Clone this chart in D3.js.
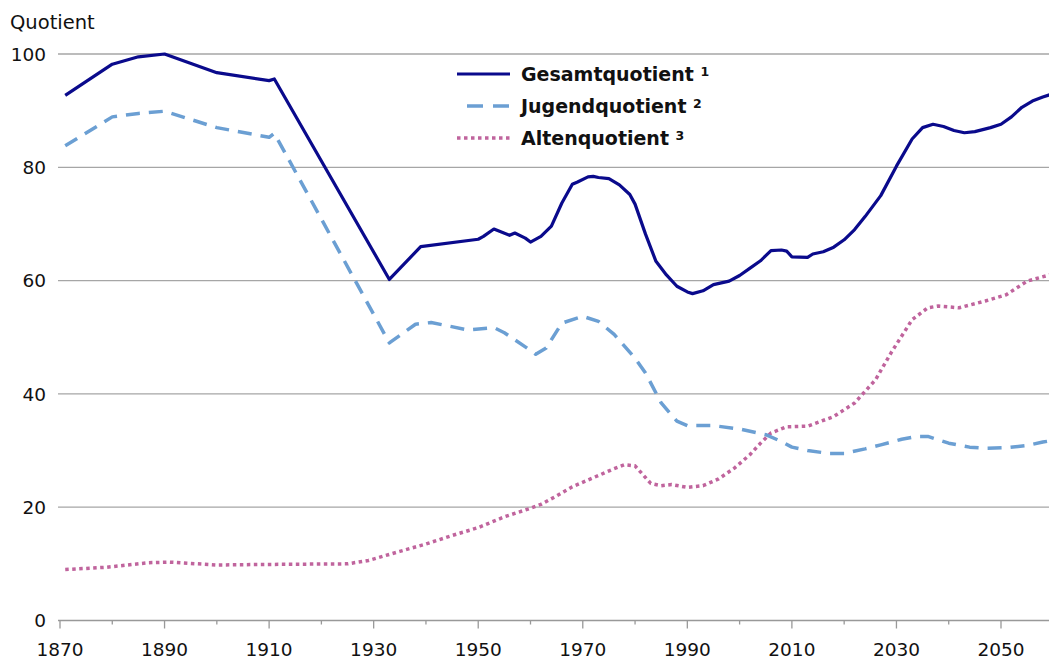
<!DOCTYPE html>
<html>
<head>
<meta charset="utf-8">
<script src="https://cdn.jsdelivr.net/npm/d3@7"></script>
<style>
    body { margin: 0; background: #fff; }
    svg { display: block; font-family: "DejaVu Sans", Verdana, sans-serif; }
</style>
</head>
<body>
<div id="chart"></div>
<script>

/*
Data
 */

var gesamtYears  = [1871, 1880, 1885, 1890, 1900, 1910, 1911, 1933, 1939, 1950, 1951, 1953, 1956, 1957, 1959, 1960, 1962, 1964, 1966, 1968, 1969, 1971, 1972, 1973, 1975, 1977, 1979, 1980, 1982, 1984, 1986, 1988, 1990, 1991, 1993, 1995, 1998, 2000, 2002, 2004, 2006, 2008, 2009, 2010, 2013, 2014, 2016, 2018, 2020, 2022, 2024, 2027, 2030, 2033, 2035, 2037, 2039, 2041, 2043, 2045, 2048, 2050, 2052, 2054, 2056, 2058, 2060];
var gesamtValues = [92.7, 98.2, 99.5, 100, 96.7, 95.3, 95.6, 60.2, 66.0, 67.3, 67.8, 69.1, 68.0, 68.4, 67.5, 66.8, 67.8, 69.6, 73.7, 77.0, 77.4, 78.3, 78.4, 78.2, 78.0, 76.9, 75.2, 73.5, 68.2, 63.4, 61.0, 59.0, 58.0, 57.7, 58.2, 59.3, 59.9, 60.9, 62.2, 63.5, 65.3, 65.4, 65.2, 64.2, 64.1, 64.7, 65.1, 65.9, 67.2, 69.0, 71.3, 75.0, 80.2, 85.0, 87.0, 87.6, 87.2, 86.5, 86.1, 86.3, 87.0, 87.6, 88.9, 90.6, 91.7, 92.4, 93.0];

var jugendYears  = [1871, 1880, 1885, 1890, 1900, 1910, 1911, 1933, 1938, 1941, 1948, 1953, 1955, 1959, 1961, 1963, 1966, 1970, 1973, 1976, 1980, 1982, 1985, 1988, 1990, 1995, 2000, 2005, 2008, 2010, 2013, 2017, 2020, 2024, 2027, 2031, 2034, 2036, 2040, 2044, 2047, 2051, 2055, 2058, 2060];
var jugendValues = [83.8, 88.9, 89.5, 89.9, 87.0, 85.3, 86.0, 49.0, 52.3, 52.6, 51.3, 51.7, 50.8, 48.3, 47.0, 48.1, 52.5, 53.7, 52.8, 50.5, 46.3, 43.7, 38.4, 35.2, 34.4, 34.4, 33.8, 32.8, 31.6, 30.6, 30.0, 29.5, 29.5, 30.3, 31.0, 32.0, 32.5, 32.5, 31.3, 30.6, 30.4, 30.5, 30.9, 31.5, 31.8];

var altenYears  = [1871, 1879, 1887, 1891, 1900, 1910, 1925, 1929, 1935, 1940, 1945, 1950, 1955, 1960, 1962, 1965, 1968, 1972, 1976, 1978, 1980, 1983, 1985, 1987, 1990, 1993, 1996, 1999, 2002, 2004, 2006, 2009, 2013, 2018, 2022, 2026, 2029, 2033, 2036, 2038, 2042, 2047, 2051, 2055, 2060];
var altenValues = [9.0, 9.4, 10.2, 10.3, 9.8, 9.9, 10.0, 10.6, 12.2, 13.5, 15.0, 16.4, 18.3, 19.8, 20.5, 22.0, 23.6, 25.2, 26.8, 27.5, 27.3, 24.2, 23.8, 24.0, 23.5, 23.8, 25.0, 26.9, 29.3, 31.3, 33.1, 34.2, 34.3, 36.0, 38.4, 42.5, 47.3, 53.1, 55.2, 55.5, 55.2, 56.4, 57.5, 59.9, 61.2];

var yTicks = [0, 20, 40, 60, 80, 100];
var xMajorTicks = [1870, 1890, 1910, 1930, 1950, 1970, 1990, 2010, 2030, 2050];
var xMinorTicks = [1880, 1900, 1920, 1940, 1960, 1980, 2000, 2020, 2040, 2060];

var seriesNames = ["Gesamtquotient", "Jugendquotient", "Altenquotient"];
var seriesNotes = ["1", "2", "3"];

/*
Chart setup
 */

var width = 1049, height = 660;

var svg = d3.select("#chart")
    .append("svg")
    .attr("width", width)
    .attr("height", height);

var x = d3.scaleLinear().domain([1870, 2050]).range([60, 1001]);
var y = d3.scaleLinear().domain([0, 100]).range([620.5, 54]);

// gridlines
svg.append("g")
    .selectAll("line")
    .data(yTicks.filter(function(d) { return d > 0; }))
    .enter()
    .append("line")
    .attr("x1", 58)
    .attr("x2", width)
    .attr("y1", function(d) { return y(d); })
    .attr("y2", function(d) { return y(d); })
    .style("stroke", "#a6a6a6")
    .style("stroke-width", 1.3);

// y labels
svg.append("g")
    .selectAll("text")
    .data(yTicks)
    .enter()
    .append("text")
    .attr("x", 46)
    .attr("y", function(d) { return y(d); })
    .attr("dy", "0.36em")
    .attr("text-anchor", "end")
    .style("font-size", "18.5px")
    .style("fill", "#111")
    .text(function(d) { return d; });

svg.append("text")
    .attr("x", 10)
    .attr("y", 29)
    .style("font-size", "19.5px")
    .style("fill", "#111")
    .text("Quotient");

// x axis line and ticks
svg.append("line")
    .attr("x1", 58)
    .attr("x2", width)
    .attr("y1", y(0))
    .attr("y2", y(0))
    .style("stroke", "#999")
    .style("stroke-width", 1.3);

svg.append("g")
    .selectAll("line")
    .data(xMajorTicks)
    .enter()
    .append("line")
    .attr("x1", function(d) { return x(d); })
    .attr("x2", function(d) { return x(d); })
    .attr("y1", y(0))
    .attr("y2", y(0) + 8)
    .style("stroke", "#999")
    .style("stroke-width", 1.3);

svg.append("g")
    .selectAll("line")
    .data(xMinorTicks)
    .enter()
    .append("line")
    .attr("x1", function(d) { return x(d); })
    .attr("x2", function(d) { return x(d); })
    .attr("y1", y(0))
    .attr("y2", y(0) + 4)
    .style("stroke", "#999")
    .style("stroke-width", 1.3);

svg.append("g")
    .selectAll("text")
    .data(xMajorTicks)
    .enter()
    .append("text")
    .attr("x", function(d) { return x(d); })
    .attr("y", 656)
    .attr("text-anchor", "middle")
    .style("font-size", "18.5px")
    .style("fill", "#111")
    .text(function(d) { return d; });

/*
Lines
 */

function toPoints(years, values) {
    return years.map(function(yr, i) { return [yr, values[i]]; });
}

var line = d3.line()
    .x(function(d) { return x(d[0]); })
    .y(function(d) { return y(d[1]); })
    .curve(d3.curveLinear);

var series = [
    { pts: toPoints(altenYears, altenValues), color: "#c0649d", dash: "3.5,3.5", width: 3.5 },
    { pts: toPoints(jugendYears, jugendValues), color: "#6b9fd3", dash: "14,9", width: 3.5 },
    { pts: toPoints(gesamtYears, gesamtValues), color: "#0a0a8c", dash: null, width: 3.2 }
];

svg.append("g")
    .selectAll("path")
    .data(series)
    .enter()
    .append("path")
    .attr("d", function(d) { return line(d.pts); })
    .style("fill", "none")
    .style("stroke", function(d) { return d.color; })
    .style("stroke-width", function(d) { return d.width; })
    .style("stroke-linejoin", "round")
    .style("stroke-dasharray", function(d) { return d.dash; });

/*
Legend
 */

var legendStyle = [
    { color: "#0a0a8c", dash: null, width: 3.2, offset: 0 },
    { color: "#6b9fd3", dash: "16,10", width: 3.5, offset: -10 },
    { color: "#c0649d", dash: "3.5,3.5", width: 3.5, offset: 0 }
];
var legendY = [74, 106, 138];

var legend = svg.append("g")
    .selectAll("g")
    .data(seriesNames)
    .enter()
    .append("g")
    .attr("transform", function(d, i) { return "translate(0," + legendY[i] + ")"; });

legend.append("line")
    .attr("x1", 457)
    .attr("x2", 510)
    .style("stroke", function(d, i) { return legendStyle[i].color; })
    .style("stroke-width", function(d, i) { return legendStyle[i].width; })
    .style("stroke-dasharray", function(d, i) { return legendStyle[i].dash; })
    .style("stroke-dashoffset", function(d, i) { return legendStyle[i].offset; });

var legendText = legend.append("text")
    .attr("x", 521)
    .attr("dy", "0.36em")
    .style("font-size", "19px")
    .style("font-weight", "bold")
    .style("fill", "#111");

legendText.append("tspan")
    .text(function(d) { return d + " "; });

legendText.append("tspan")
    .attr("dy", "-0.35em")
    .style("font-size", "12.5px")
    .text(function(d, i) { return seriesNotes[i]; });

</script>
</body>
</html>
